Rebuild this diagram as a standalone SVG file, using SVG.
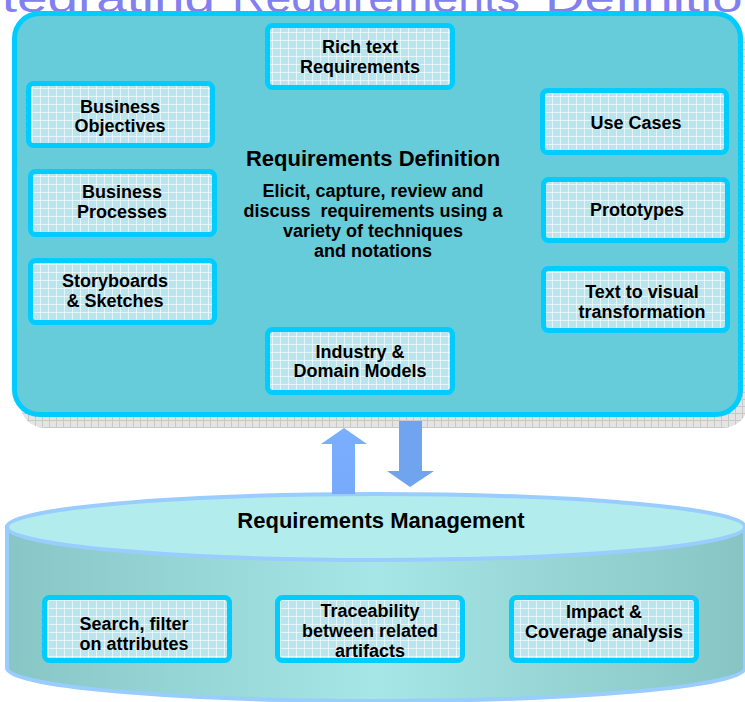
<svg xmlns="http://www.w3.org/2000/svg" width="745" height="702" viewBox="0 0 745 702">
<defs>
<pattern id="grid" width="8" height="8" patternUnits="userSpaceOnUse">
<rect width="8" height="8" fill="#BBE5EE"/>
<path d="M0 0.5H8M0.5 0V8" stroke="#FFFFFF" stroke-width="1" stroke-opacity="0.6"/>
</pattern>
<pattern id="sgrid" width="7" height="7" patternUnits="userSpaceOnUse">
<rect width="7" height="7" fill="#E4E4E4"/>
<path d="M0 0.5H7M0.5 0V7" stroke="#C8C8C8" stroke-width="1"/>
</pattern>
<linearGradient id="body" x1="0" y1="0" x2="1" y2="0">
<stop offset="0" stop-color="#88C6C6"/>
<stop offset="0.5" stop-color="#A6E6E6"/>
<stop offset="1" stop-color="#88C4C4"/>
</linearGradient>
<linearGradient id="up" x1="0" y1="0" x2="0" y2="1">
<stop offset="0" stop-color="#7AAEFF"/>
<stop offset="1" stop-color="#78AAFA"/>
</linearGradient>
</defs>
<style>
.box{fill:url(#grid);stroke:#00CCFF;stroke-width:5}
.t{font-family:"Liberation Sans",Arial,sans-serif;font-weight:bold;font-size:18px;fill:#000;text-anchor:middle}
.h{font-family:"Liberation Sans",Arial,sans-serif;font-weight:bold;font-size:22px;fill:#000;text-anchor:middle}
.title{font-family:"Liberation Sans",Arial,sans-serif;font-size:40px;fill:#8080F0}
</style>

<g id="title">
<text class="title" y="12"><tspan x="-44" textLength="259" lengthAdjust="spacingAndGlyphs">Integrating</tspan><tspan x="232" textLength="288" lengthAdjust="spacingAndGlyphs">Requirements</tspan><tspan x="545" textLength="228" lengthAdjust="spacingAndGlyphs">Definition</tspan></text>
</g>

<g id="requirements-definition">
<rect x="20" y="25" width="728" height="403" rx="25" fill="url(#sgrid)"/>
<rect x="14.5" y="13.5" width="726" height="401" rx="25" fill="#66CCDA" stroke="#00CCFF" stroke-width="5"/>
<text class="h" x="373" y="166">Requirements Definition</text>
<text class="t" x="373" y="197">Elicit, capture, review and</text>
<text class="t" x="373" y="217" xml:space="preserve">discuss  requirements using a</text>
<text class="t" x="373" y="237">variety of techniques</text>
<text class="t" x="373" y="257">and notations</text>
</g>

<g id="rich-text">
<rect class="box" x="267.5" y="25.5" width="185" height="62" rx="5"/>
<text class="t" x="360" y="53">Rich text</text>
<text class="t" x="360" y="73">Requirements</text>
</g>
<g id="business-objectives">
<rect class="box" x="28.5" y="83.5" width="184" height="62" rx="5"/>
<text class="t" x="120" y="113">Business</text>
<text class="t" x="120" y="132">Objectives</text>
</g>
<g id="business-processes">
<rect class="box" x="30.5" y="171.5" width="184" height="63" rx="5"/>
<text class="t" x="122" y="198">Business</text>
<text class="t" x="122" y="218">Processes</text>
</g>
<g id="storyboards">
<rect class="box" x="30.5" y="260.5" width="184" height="62" rx="5"/>
<text class="t" x="115" y="287">Storyboards</text>
<text class="t" x="115" y="307">&amp; Sketches</text>
</g>
<g id="use-cases">
<rect class="box" x="542.5" y="90.5" width="184" height="62" rx="5"/>
<text class="t" x="636" y="129">Use Cases</text>
</g>
<g id="prototypes">
<rect class="box" x="543.5" y="179.5" width="184" height="61" rx="5"/>
<text class="t" x="637" y="216">Prototypes</text>
</g>
<g id="text-to-visual">
<rect class="box" x="543.5" y="268.5" width="184" height="62" rx="5"/>
<text class="t" x="642" y="298">Text to visual</text>
<text class="t" x="642" y="318">transformation</text>
</g>
<g id="industry-domain">
<rect class="box" x="267.5" y="329.5" width="185" height="63" rx="5"/>
<text class="t" x="360" y="358">Industry &amp;</text>
<text class="t" x="360" y="377">Domain Models</text>
</g>

<g id="requirements-management">
<path d="M7 527 V668 A369 33 0 0 0 745 668 V527 Z" fill="url(#body)" stroke="#99CCFF" stroke-width="4"/>
<ellipse cx="376" cy="527" rx="369" ry="33" fill="#B3ECEC" stroke="#99CCFF" stroke-width="4"/>
<text class="h" x="381" y="528">Requirements Management</text>
</g>

<g id="search-filter">
<rect class="box" x="44.5" y="597.5" width="185" height="63" rx="5"/>
<text class="t" x="134" y="630">Search, filter</text>
<text class="t" x="134" y="650">on attributes</text>
</g>
<g id="traceability">
<rect class="box" x="277.5" y="597.5" width="185" height="63" rx="5"/>
<text class="t" x="370" y="617">Traceability</text>
<text class="t" x="370" y="637">between related</text>
<text class="t" x="370" y="657">artifacts</text>
</g>
<g id="impact-coverage">
<rect class="box" x="511.5" y="597.5" width="185" height="63" rx="5"/>
<text class="t" x="604" y="618">Impact &amp;</text>
<text class="t" x="604" y="638">Coverage analysis</text>
</g>

<g id="connectors">
<polygon points="344,428 367,444 355,444 355,494 332,494 332,444 321,444" fill="url(#up)"/>
<polygon points="399,421 422,421 422,471 434,471 410,487 387,471 399,471" fill="#70A4EE"/>
</g>
</svg>
